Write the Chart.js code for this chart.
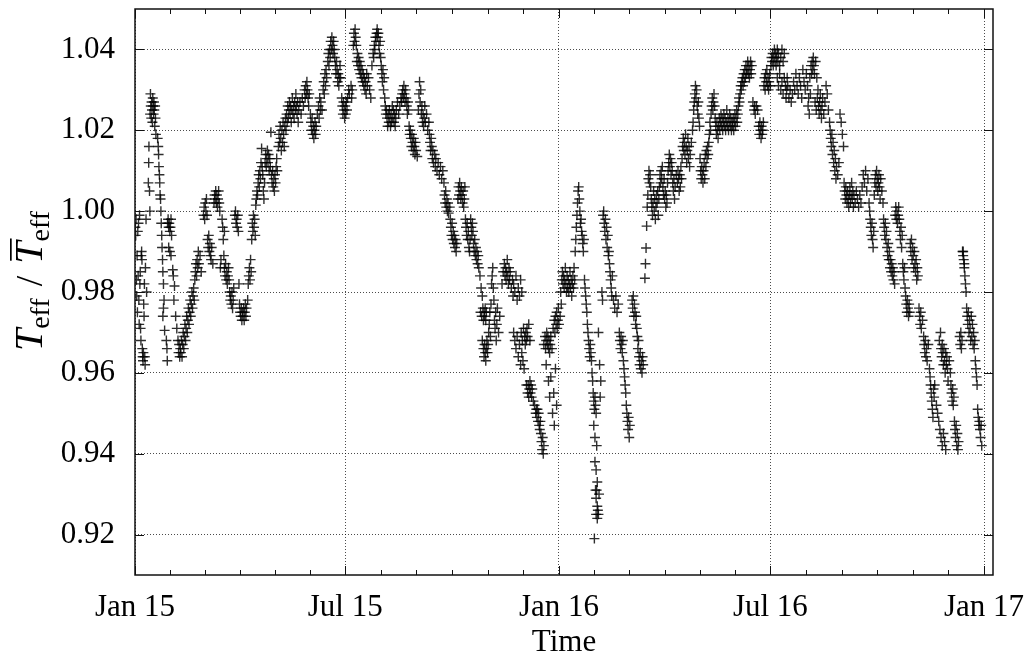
<!DOCTYPE html>
<html>
<head>
<meta charset="utf-8">
<script src="https://cdn.jsdelivr.net/npm/chart.js@4.4.0/dist/chart.umd.min.js"></script>
<style>
  html, body { margin: 0; padding: 0; background: #fff; }
  #wrap { width: 1030px; height: 661px; }
</style>
</head>
<body>
<div id="wrap"><canvas id="teffChart" width="1030" height="661"></canvas></div>
<script>
// x = days since 1 Jan 2015, y = T_eff / mean T_eff
const obsH1_2015 = [
  [0.3,0.996],[0.6,0.994],[0.9,0.998],[1.2,0.983],[1.5,0.979],[1.8,0.989],[2.1,0.975],[2.4,0.995],[2.7,0.984],[3.0,0.997],
  [3.3,0.978],[3.6,0.972],[3.9,0.999],[4.2,0.982],[4.5,0.985],[4.8,0.971],[5.1,0.968],[5.4,0.989],[5.7,0.990],[6.0,0.988],
  [6.3,0.966],[6.6,0.964],[6.9,0.963],[7.2,0.965],[7.5,0.977],[7.8,0.974],[8.1,0.982],[8.4,0.964],[8.7,0.962],[9.0,0.986],
  [9.5,0.998],[10.0,0.980],
  [11.5,1.007],[11.8,1.012],[12.0,1.016],[12.5,1.005],[12.8,1.000],[13.0,1.024],[13.3,1.029],[13.6,1.026],[14.0,1.023],
  [14.3,1.027],[14.6,1.025],[15.0,1.022],[15.3,1.028],[15.6,1.026],[16.0,1.024],[16.3,1.027],[16.6,1.025],[17.0,1.021],
  [17.3,1.026],[17.6,1.023],[18.0,1.019],[19.5,1.018],[20.0,1.016],[20.3,1.014],[20.6,1.011],[21.0,1.009],[21.3,1.007],
  [21.6,1.004],[22.0,1.003],[22.3,1.000],[22.6,0.997],[23.0,0.994],[23.3,0.991],[23.7,0.988],[24.0,0.985],[24.5,0.982],
  [25.0,0.978],[24.5,0.976],[24.0,0.974],[25.5,0.9705],[27.0,0.968],[27.5,0.966],[27.8,0.963],
  [28.0,0.997],[28.5,0.998],[29.0,0.996],[29.5,0.997],[30.0,0.995],[30.5,0.996],[31.0,0.998],[31.5,0.994],[29.0,0.991],
  [30.0,0.990],[31.0,0.989],[32.5,0.9855],[33.0,0.984],[34.0,0.9815],[33.5,0.978],
  [35.0,0.974],[36.0,0.971],[37.0,0.968],[37.5,0.965],[38.0,0.967],[38.5,0.964],[39.0,0.966],[39.5,0.965],[40.0,0.968],
  [40.5,0.964],[41.0,0.967],[41.5,0.970],[42.0,0.966],[42.5,0.969],[43.0,0.972],[43.5,0.968],[44.0,0.971],[44.5,0.974],
  [45.0,0.970],[45.5,0.973],[46.0,0.976],[46.5,0.972],[47.0,0.975],[47.5,0.978],[48.0,0.974],[48.5,0.977],[49.0,0.980],
  [49.5,0.976],[50.0,0.979],[50.5,0.981],[51.0,0.978],[51.5,0.983],[52.0,0.985],[52.5,0.987],[53.0,0.984],[53.5,0.988],
  [54.0,0.986],[54.5,0.990],[55.0,0.987],[56.0,0.989],[57.0,0.985],
  [59.0,0.999],[59.5,1.001],[60.0,0.998],[60.5,1.002],[61.0,1.000],[61.5,1.003],[62.0,0.999],[62.5,0.993],[63.0,0.991],
  [63.5,0.994],[64.0,0.990],[64.5,0.992],[65.0,0.989],[65.5,0.988],[66.0,0.991],[67.0,0.987],[68.0,1.002],[68.5,1.004],
  [69.0,1.003],[69.5,1.005],[70.0,1.002],[70.5,1.004],[71.0,1.001],[71.5,1.003],[72.0,1.005],[72.5,1.002],[73.0,1.000],
  [73.5,0.986],[74.0,0.988],[75.0,0.998],[75.5,0.996],[76.0,0.993],[77.0,0.995],
  [76.5,0.989],[77.0,0.986],[77.5,0.984],[78.0,0.987],[78.5,0.983],[79.0,0.985],[79.5,0.982],[80.0,0.984],[80.5,0.986],
  [81.0,0.983],[81.5,0.980],[82.0,0.978],[82.5,0.979],[83.0,0.977],[83.5,0.980],[84.0,0.976],[84.5,0.978],[85.0,0.981],
  [86.0,0.999],[86.5,1.000],[87.0,0.997],[87.5,0.998],[88.0,0.996],[88.5,0.999],[89.0,0.995],[89.5,0.982],[90.0,0.977],
  [90.5,0.975],[91.0,0.974],[91.5,0.976],[92.0,0.973],[92.5,0.975],[93.0,0.974],[93.5,0.976],[94.0,0.973],[94.5,0.975],
  [95.0,0.977],[95.5,0.974],[96.0,0.976],[97.0,0.978],
  [97.5,0.982],[98.0,0.984],[98.5,0.986],[99.0,0.983],[99.5,0.988],[100.0,0.985],[100.5,0.993],[101.0,0.997],[101.5,0.995],
  [102.0,0.999],[102.5,0.996],[103.0,0.998],[103.5,0.994],[104.0,1.0015],[104.5,1.003],[105.0,1.005],[105.5,1.004],
  [106.0,1.007],[106.5,1.009],[107.0,1.006],[107.5,1.010],[108.0,1.008],[108.5,1.012],[109.0,1.0155],[109.5,1.011],
  [110.0,1.009],[110.5,1.005],[111.0,1.003],[111.5,1.007],
  [112.0,1.012],[112.5,1.014],[113.0,1.011],[113.5,1.013],[114.0,1.015],[114.5,1.012],[115.0,1.014],[115.5,1.010],
  [116.0,1.013],[116.5,1.011],[117.0,1.0195],[117.5,1.009],[118.0,1.007],[118.5,1.010],[119.0,1.006],[119.5,1.008],
  [120.0,1.005],[120.5,1.009],[121.0,1.007],[121.5,1.011],[122.0,1.013],[122.5,1.010],
  [123.5,1.016],[124.0,1.019],[124.5,1.017],[125.0,1.021],[125.5,1.018],[126.0,1.015],[126.5,1.020],[127.0,1.017],
  [127.5,1.022],[128.0,1.019],[128.5,1.016],[129.0,1.021],[129.5,1.023],[130.0,1.020],[130.5,1.024],[131.0,1.022],
  [131.5,1.026],[132.0,1.023],[132.5,1.025],[133.0,1.027],[133.5,1.024],[134.0,1.026],[134.5,1.022],[135.0,1.025],
  [135.5,1.028],[136.0,1.024],[136.5,1.026],[137.0,1.023],[137.5,1.027],[138.0,1.025],[138.5,1.029],[139.0,1.026],
  [139.5,1.024],[140.0,1.027],[140.5,1.022],[141.0,1.025],[142.0,1.027],[143.0,1.024],[144.0,1.028],[145.0,1.026],
  [146.0,1.030],[146.5,1.028],[147.0,1.031],[147.5,1.029],[148.0,1.032],[148.5,1.030],[149.0,1.028],[149.5,1.026],
  [150.0,1.029],
  [151.0,1.024],[151.5,1.022],[152.0,1.020],[152.5,1.023],[153.0,1.019],[153.5,1.021],[154.0,1.018],[154.5,1.020],
  [155.0,1.022],[155.5,1.019],[156.0,1.021],[157.0,1.024],[158.0,1.026],[158.5,1.023],[159.0,1.028],[159.5,1.025],
  [160.0,1.027],[161.0,1.025],[162.0,1.030],[162.5,1.032],[163.0,1.029],[163.5,1.034],[164.0,1.031],[164.5,1.035],
  [165.0,1.033],
  [166.0,1.037],[166.5,1.039],[167.0,1.036],[167.5,1.040],[168.0,1.038],[168.5,1.042],[169.0,1.040],[169.5,1.043],
  [170.0,1.041],[170.5,1.039],[171.0,1.042],[171.5,1.040],[172.0,1.038],[172.5,1.036],[173.0,1.034],[173.5,1.037],
  [174.0,1.035],[174.5,1.032],[175.0,1.034],[175.5,1.031],[176.0,1.033],[176.5,1.036],[177.0,1.033],[178.0,1.028],
  [178.5,1.026],[179.0,1.024],[179.5,1.027],[180.0,1.025],[180.5,1.023]
];

const obsH2_2015 = [
  [181.0,1.026],[181.5,1.024],[182.0,1.027],[182.5,1.025],[183.0,1.028],[184.0,1.030],[184.5,1.029],
  [186.0,1.031],[186.5,1.028],[187.0,1.030],[188.0,1.041],[188.5,1.044],[189.0,1.042],[189.5,1.045],[190.0,1.043],
  [190.5,1.041],[191.0,1.037],[191.5,1.039],[192.0,1.036],[192.5,1.038],[193.0,1.035],[193.5,1.037],[194.0,1.034],
  [194.5,1.036],[195.0,1.033],[195.5,1.035],[196.0,1.032],[196.5,1.034],[197.0,1.031],[197.5,1.033],[198.0,1.030],
  [198.5,1.032],[199.0,1.029],[199.5,1.034],[200.0,1.031],[201.0,1.033],[202.0,1.030],[203.0,1.028],
  [204.0,1.036],[205.0,1.039],[205.5,1.038],[206.0,1.041],[206.5,1.040],[207.0,1.043],[207.5,1.042],[208.0,1.044],
  [208.5,1.045],[209.0,1.043],[209.5,1.044],[210.0,1.041],[210.5,1.039],[211.0,1.042],[211.5,1.038],[212.0,1.036],
  [212.5,1.034],[213.0,1.032],[213.5,1.035],[214.0,1.030],[214.5,1.033],[215.0,1.028],
  [215.5,1.026],[216.0,1.024],[216.5,1.025],[217.0,1.023],[217.5,1.021],[218.0,1.024],[218.5,1.022],[219.0,1.025],
  [219.5,1.023],[220.0,1.021],[220.5,1.024],[221.0,1.022],[221.5,1.026],[222.0,1.023],[222.5,1.025],[223.0,1.022],
  [223.5,1.024],[224.0,1.021],[224.5,1.023],[225.0,1.025],[226.0,1.027],[227.0,1.024],
  [228.0,1.026],[229.0,1.028],[229.5,1.027],[230.0,1.029],[230.5,1.030],[231.0,1.028],[231.5,1.031],[232.0,1.029],
  [232.5,1.027],[233.0,1.030],[233.5,1.028],[234.0,1.026],[234.5,1.024],[235.0,1.027],[235.5,1.025],
  [236.0,1.021],[236.5,1.019],[237.0,1.020],[237.5,1.018],[238.0,1.016],[238.5,1.019],[239.0,1.017],[239.5,1.015],
  [240.0,1.018],[240.5,1.016],[241.0,1.014],[241.5,1.017],[242.0,1.015],[243.0,1.0135],
  [244.0,1.025],[244.5,1.029],[245.0,1.032],[245.5,1.027],[246.0,1.030],[246.5,1.024],[247.0,1.026],[247.5,1.022],
  [248.0,1.024],[248.5,1.021],[249.0,1.023],[249.5,1.026],[250.0,1.022],[251.0,1.024],[252.0,1.020],[253.0,1.022],
  [253.5,1.019],[254.0,1.017],[254.5,1.015],[255.0,1.018],[255.5,1.016],[256.0,1.013],[256.5,1.015],[257.0,1.012],
  [258.0,1.014],[258.5,1.011],[259.0,1.013],[260.0,1.010],[261.0,1.012],[262.0,1.009],[263.0,1.011],[264.0,1.008],
  [265.0,1.010],[266.0,1.007],
  [266.5,1.004],[267.0,1.002],[267.5,1.005],[268.0,1.001],[268.5,1.003],[269.0,1.000],[269.5,1.002],[270.0,0.9995],
  [271.0,1.001],
  [271.5,0.998],[272.0,0.996],[272.5,0.994],[273.0,0.997],[273.5,0.993],[274.0,0.995],[274.5,0.992],[275.0,0.994],
  [275.5,0.991],[276.0,0.993],[276.5,0.990],[277.0,0.992],
  [278.0,1.003],[278.5,1.006],[279.0,1.004],[279.5,1.007],[280.0,1.005],[280.5,1.003],[281.0,1.006],[281.5,1.004],
  [282.0,1.002],[282.5,1.005],[283.0,1.001],[283.5,1.003],[284.0,1.006],
  [284.5,0.998],[285.0,0.996],[285.5,0.994],[286.0,0.997],[286.5,0.993],[287.0,0.995],[287.5,0.991],[288.0,0.990],
  [288.5,0.993],
  [289.0,0.998],[289.5,0.996],[290.0,0.994],[290.5,0.997],[291.0,0.995],[291.5,0.992],[292.0,0.990],[292.5,0.993],
  [293.0,0.989],[293.5,0.991],[294.0,0.988],[294.5,0.990],[295.0,0.987],[295.5,0.989],
  [296.0,0.986],[297.0,0.984],[298.0,0.981],[299.0,0.979],
  [297.5,0.975],[298.5,0.974],[299.5,0.976],[300.0,0.973],[300.5,0.975],[301.0,0.974],[301.5,0.976],[302.0,0.973],
  [302.5,0.975],[299.0,0.968],[300.0,0.966],[300.5,0.964],[301.0,0.967],[301.5,0.965],[302.0,0.963],[302.5,0.966],
  [303.0,0.968],[303.5,0.965],[304.0,0.967],
  [304.5,0.970],[305.0,0.972],[305.5,0.975],[306.0,0.969],[306.5,0.977],[307.0,0.982],[307.5,0.984],[308.0,0.986],
  [308.5,0.981],[309.0,0.978],[309.5,0.973],[310.0,0.971],[310.5,0.975],[311.0,0.968],[311.5,0.972],[312.0,0.976],
  [313.0,0.970],[314.0,0.974],
  [316.0,0.982],[317.0,0.985],[318.0,0.987],[318.5,0.984],[319.0,0.986],[319.5,0.983],[320.0,0.985],[320.5,0.988],
  [321.0,0.984],[321.5,0.982],[322.0,0.986],[322.5,0.983],[323.0,0.985],[324.0,0.981],[325.0,0.983],
  [325.5,0.979],[326.0,0.982],[327.0,0.980],[328.0,0.984],[329.0,0.978],[330.0,0.981],[331.0,0.979],[332.0,0.983],
  [333.0,0.980],
  [326.0,0.970],[327.0,0.968],[328.0,0.966],[329.0,0.969],[330.0,0.964],[331.0,0.967],[332.0,0.962],[333.0,0.965],
  [334.0,0.963],[335.0,0.961],
  [332.5,0.970],[333.5,0.968],[334.5,0.971],[335.5,0.969],[336.0,0.967],[336.5,0.970],[337.0,0.968],[337.5,0.971],
  [338.0,0.969],[339.0,0.972],[340.0,0.968],
  [337.0,0.957],[338.0,0.955],[338.5,0.957],[339.0,0.954],[339.5,0.956],[340.0,0.958],[340.5,0.955],[341.0,0.957],
  [341.5,0.954],[342.0,0.956],[343.0,0.953],
  [344.0,0.952],[345.0,0.950],[345.5,0.951],[346.0,0.949],[346.5,0.951],[347.0,0.948],[347.5,0.950],[348.0,0.947],
  [348.5,0.946],[349.0,0.948],
  [349.5,0.945],[350.0,0.943],[350.5,0.941],[351.0,0.944],[351.5,0.940],[352.0,0.942],
  [352.0,0.967],[353.0,0.969],[353.5,0.966],[354.0,0.968],[354.5,0.970],[355.0,0.967],[355.5,0.969],[356.0,0.966],
  [356.5,0.968],[357.0,0.965],[357.5,0.967],[358.0,0.969],[359.0,0.966],
  [354.0,0.962],[356.0,0.958],[357.0,0.954],[358.0,0.959],[359.5,0.950],[360.5,0.955],[361.0,0.947],[362.0,0.961],
  [363.0,0.952],
  [360.0,0.971],[361.0,0.973],[361.5,0.970],[362.0,0.974],[362.5,0.972],[363.0,0.975],[363.5,0.971],[364.0,0.973],
  [364.5,0.976]
];

const obsH1_2016 = [
  [365.0,0.972],[366.0,0.974],[367.0,0.977],
  [366.5,0.980],[367.5,0.983],[368.0,0.985],[368.5,0.982],[369.0,0.984],[369.5,0.981],[370.0,0.983],[370.5,0.986],
  [371.0,0.982],[371.5,0.980],[372.0,0.984],[372.5,0.981],[373.0,0.983],[373.5,0.980],[374.0,0.982],[374.5,0.985],
  [375.0,0.981],[375.5,0.983],[376.0,0.979],[376.5,0.982],[377.0,0.984],[377.5,0.981],[378.0,0.986],[378.5,0.983],
  [379.0,0.990],[379.5,0.993],[380.0,0.996],[380.5,0.999],[381.0,1.002],[381.5,1.005],[382.0,1.006],[382.5,1.003],
  [383.0,1.000],[383.5,0.997],[384.0,0.998],[384.5,0.995],[385.0,0.994],[385.5,0.992],[386.0,0.990],[386.5,0.993],
  [387.0,0.983],[387.5,0.981],[388.0,0.979],[388.5,0.977],[389.0,0.975],[389.5,0.972],[390.0,0.970],[390.5,0.968],
  [391.0,0.966],[391.5,0.964],[392.0,0.967],[392.5,0.965],[393.0,0.963],[393.5,0.960],[394.0,0.958],[394.5,0.955],
  [395.0,0.953],[395.5,0.951],[396.0,0.954],[396.5,0.952],[397.0,0.950],
  [395.0,0.947],[396.0,0.944],[397.5,0.942],[396.0,0.938],[397.0,0.936],[398.0,0.933],[396.5,0.931],[397.0,0.929],
  [397.5,0.931],[398.0,0.927],[398.5,0.926],[397.0,0.925],[398.0,0.924],[399.0,0.925],[399.5,0.930],[395.5,0.919],
  [399.0,0.970],[400.0,0.962],[401.0,0.958],[400.5,0.954],[402.0,0.980],[402.5,0.978],
  [403.0,0.999],[403.5,1.000],[404.0,0.997],[404.5,0.995],[405.0,0.998],[405.5,0.993],[406.0,0.996],[406.5,0.991],
  [407.0,0.994],[407.5,0.989],[408.0,0.990],[408.5,0.987],[409.0,0.985],[409.5,0.983],[410.0,0.981],[410.5,0.979],
  [411.0,0.984],
  [412.0,0.978],[413.0,0.976],[414.0,0.979],[415.0,0.975],[416.0,0.977],[417.0,0.970],[417.5,0.968],[418.0,0.966],
  [418.5,0.969],[419.0,0.967],[419.5,0.965],[420.0,0.968],[420.5,0.963],[421.0,0.961],[421.5,0.959],[422.0,0.957],
  [422.5,0.955],[423.0,0.952],[423.5,0.950],[424.0,0.948],[424.5,0.946],[425.0,0.949],[425.5,0.944],[426.0,0.947],
  [428.0,0.978],[428.5,0.976],[429.0,0.979],[429.5,0.974],[430.0,0.977],[430.5,0.975],[431.0,0.972],[431.5,0.974],
  [432.0,0.971],[432.5,0.969],[433.0,0.966],[433.5,0.968],[434.0,0.964],[434.5,0.962],[435.0,0.965],[435.5,0.961],
  [436.0,0.963],[436.5,0.960],[437.0,0.964],[437.5,0.962],
  [439.0,0.9834],[439.5,0.987],[440.0,0.9909],[440.5,0.9963],[441.0,1.001],
  [441.5,1.004],[442.0,1.008],[442.5,1.010],[443.0,1.007],[443.5,1.009],[444.0,1.006],[444.5,1.003],[445.0,1.001],
  [445.5,0.999],[446.0,1.002],[446.5,1.005],[447.0,1.000],[447.5,1.003],[448.0,0.998],
  [448.5,1.001],[449.0,1.004],[449.5,1.002],[450.0,1.005],[450.5,0.999],[451.0,1.003],[451.5,1.006],[452.0,1.009],
  [452.5,1.007],[453.0,1.010],[453.5,1.008],[454.0,1.011],[454.5,1.006],[455.0,1.004],[455.5,1.008],[456.0,1.003],
  [456.5,1.005],[457.0,1.001],[457.5,1.004],[458.0,1.002],
  [458.5,1.007],[459.0,1.010],[459.5,1.012],[460.0,1.014],[460.5,1.011],[461.0,1.013],[461.5,1.009],[462.0,1.012],
  [462.5,1.010],[463.0,1.007],[463.5,1.005],[464.0,1.008],[464.5,1.003],[465.0,1.006],[466.0,1.009],[467.0,1.007],
  [467.5,1.010],[468.0,1.008],[468.5,1.005],[469.0,1.009],[469.5,1.006],[470.0,1.011],[470.5,1.008],
  [471.0,1.013],[471.5,1.016],[472.0,1.018],[472.5,1.015],[473.0,1.017],[473.5,1.014],[474.0,1.019],[474.5,1.016],
  [475.0,1.012],[475.5,1.015],[476.0,1.018],[476.5,1.013],[477.0,1.016],[477.5,1.011],[478.0,1.014],[479.0,1.017],
  [480.0,1.020],
  [480.5,1.022],[481.0,1.025],[481.5,1.027],[482.0,1.029],[482.5,1.031],[483.0,1.028],[483.5,1.030],[484.0,1.026],
  [484.5,1.024],[485.0,1.027],[485.5,1.023],[486.0,1.021],
  [486.5,1.013],[487.0,1.010],[487.5,1.008],[488.0,1.011],[488.5,1.009],[489.0,1.007],[489.5,1.010],[490.0,1.012],
  [490.5,1.008],[491.0,1.014],[491.5,1.011],[492.0,1.015],
  [492.5,1.013],[493.0,1.016],[493.5,1.014],[494.0,1.017],[494.5,1.019],[495.0,1.022],[495.5,1.020],[496.0,1.024],
  [496.5,1.026],[497.0,1.028],[497.5,1.025],[498.0,1.027],[498.5,1.029],[499.0,1.026],[499.5,1.023],[500.0,1.021],
  [500.5,1.019],[501.0,1.022],[501.5,1.020],[502.0,1.018],[502.5,1.021],[503.0,1.023],
  [503.5,1.020],[504.0,1.022],[504.5,1.024],[505.0,1.021],[505.5,1.023],[506.0,1.020],[506.5,1.022],[507.0,1.024],
  [507.5,1.021],[508.0,1.023],[508.5,1.020],[509.0,1.022],[509.5,1.025],[510.0,1.021],[510.5,1.023],[511.0,1.020],
  [511.5,1.022],[512.0,1.024],[512.5,1.021],[513.0,1.023],[513.5,1.020],[514.0,1.022],[514.5,1.021],[515.0,1.023],
  [515.5,1.020],[516.0,1.022],[516.5,1.024],[517.0,1.021],[517.5,1.023],[518.0,1.025],[518.5,1.022],[519.0,1.024],
  [519.5,1.026],[520.0,1.028],[520.5,1.027],[521.0,1.029],[521.5,1.031],[522.0,1.030],[522.5,1.032],[523.0,1.033],
  [523.5,1.031],[524.0,1.034],[524.5,1.032],[525.0,1.035],[525.5,1.033],[526.0,1.036],[526.5,1.034],[527.0,1.035],
  [527.5,1.037],[528.0,1.034],[528.5,1.036],[529.0,1.033],[529.5,1.035],[530.0,1.037],[530.5,1.034],[531.0,1.036],
  [532.0,1.027],[533.0,1.025],[533.5,1.026],[534.0,1.024],[535.0,1.026],[536.0,1.025],[537.0,1.021],[537.5,1.019],
  [538.0,1.022],[538.5,1.020],[539.0,1.018],[539.5,1.021],[540.0,1.019],[540.5,1.020],[541.0,1.022],
  [541.5,1.031],[542.0,1.033],[542.5,1.030],[543.0,1.034],[543.5,1.032],[544.0,1.035],[544.5,1.031],[545.0,1.033],
  [545.5,1.030],[546.0,1.032],[546.5,1.034]
];

const obsH2_2016 = [
  [547.0,1.031],
  [547.5,1.036],[548.0,1.038],[548.5,1.037],[549.0,1.039],[549.5,1.036],[550.0,1.038],[550.5,1.040],[551.0,1.037],
  [551.5,1.039],[552.0,1.036],[552.5,1.038],[553.0,1.040],[553.5,1.037],[554.0,1.039],[555.0,1.036],[556.0,1.038],
  [557.0,1.040],[558.0,1.037],[559.0,1.039],
  [553.0,1.033],[554.0,1.031],[555.0,1.034],[556.0,1.030],[557.0,1.032],[558.0,1.029],[559.0,1.033],[560.0,1.031],
  [560.5,1.028],[561.0,1.030],[561.5,1.033],[562.0,1.031],[563.0,1.028],[564.0,1.030],[565.0,1.027],[566.0,1.029],
  [567.0,1.032],[568.0,1.030],[569.0,1.034],[570.0,1.031],[571.0,1.029],[572.0,1.033],[573.0,1.031],[574.0,1.028],
  [575.0,1.035],[576.0,1.032],[577.0,1.030],[578.0,1.034],[579.0,1.031],[580.0,1.028],[581.0,1.033],[582.0,1.036],
  [582.5,1.034],[583.0,1.037],[583.5,1.035],[584.0,1.038],[584.5,1.036],[585.0,1.034],[586.0,1.037],[587.0,1.033],
  [579.5,1.026],[580.5,1.024],[581.5,1.029],[585.5,1.027],[586.5,1.025],[587.5,1.028],[588.0,1.030],[588.5,1.026],
  [589.0,1.024],[589.5,1.027],[590.0,1.029],[590.5,1.025],[591.0,1.023],[591.5,1.026],[592.0,1.028],[593.0,1.024],
  [594.0,1.027],[595.0,1.031],[596.0,1.029],[597.0,1.025],[598.0,1.022],
  [598.5,1.020],[599.0,1.018],[599.5,1.016],[600.0,1.019],[600.5,1.014],[601.0,1.017],[601.5,1.012],[602.0,1.015],
  [602.5,1.010],[603.0,1.013],[603.5,1.008],[604.0,1.011],[605.0,1.009],[606.0,1.012],[607.0,1.024],[608.0,1.022],
  [609.0,1.019],[610.0,1.016],
  [610.5,1.007],[611.0,1.005],[611.5,1.003],[612.0,1.006],[612.5,1.004],[613.0,1.002],[613.5,1.005],[614.0,1.003],
  [614.5,1.001],[615.0,1.004],[615.5,1.006],[616.0,1.002],[616.5,1.004],[617.0,1.007],[617.5,1.003],[618.0,1.005],
  [618.5,1.001],[619.0,1.004],[620.0,1.002],[621.0,1.005],[622.0,1.003],[623.0,1.001],[624.0,1.004],[625.0,1.002],
  [626.0,1.006],[627.0,1.009],[628.0,1.007],[629.0,1.010],[630.0,1.005],[631.0,1.008],[632.0,1.002],[632.5,1.000],
  [633.0,0.998],[633.5,0.996],[634.0,0.994],[634.5,0.997],[635.0,0.993],[635.5,0.991],[636.0,0.995],
  [636.5,1.004],[637.0,1.007],[637.5,1.009],[638.0,1.006],[638.5,1.010],[639.0,1.008],[639.5,1.005],[640.0,1.007],
  [640.5,1.009],[641.0,1.006],[641.5,1.003],[642.0,1.008],[643.0,1.005],[644.0,1.002],
  [644.5,0.998],[645.0,0.996],[645.5,0.994],[646.0,0.997],[646.5,0.993],[647.0,0.995],[647.5,0.991],[648.0,0.989],
  [648.5,0.992],[649.0,0.988],[649.5,0.990],[650.0,0.986],[650.5,0.988],[651.0,0.985],[651.5,0.987],[652.0,0.984],
  [652.5,0.986],[653.0,0.983],[653.5,0.985],[654.0,0.982],
  [654.5,0.999],[655.0,1.001],[655.5,0.998],[656.0,1.000],[656.5,0.997],[657.0,0.999],[657.5,1.001],[658.0,0.998],
  [658.5,0.995],[659.0,0.993],[659.5,0.996],[660.0,0.991],[660.5,0.994],
  [661.0,0.987],[661.5,0.985],[662.0,0.983],[662.5,0.986],[663.0,0.981],[663.5,0.979],[664.0,0.977],[664.5,0.975],
  [665.0,0.978],[665.5,0.976],[666.0,0.974],[666.5,0.977],[667.0,0.975],
  [667.5,0.992],[668.0,0.990],[668.5,0.993],[669.0,0.988],[669.5,0.991],[670.0,0.989],[670.5,0.986],[671.0,0.990],
  [671.5,0.987],[672.0,0.985],[672.5,0.988],[673.0,0.983],[673.5,0.986],[674.0,0.984],
  [675.0,0.976],[675.5,0.974],[676.0,0.972],[676.5,0.975],[677.0,0.971],[678.0,0.973],[679.0,0.969],[679.5,0.967],
  [680.0,0.965],[680.5,0.968],[681.0,0.964],[681.5,0.966],[682.0,0.963],[683.0,0.967],[684.0,0.961],[684.5,0.959],
  [685.0,0.957],[685.5,0.955],[686.0,0.953],[686.5,0.951],[687.0,0.949],[687.5,0.956],[688.0,0.954],[688.5,0.957],
  [690.0,0.952],[691.0,0.950],[692.0,0.948],[693.0,0.946],[694.0,0.944],[695.0,0.942],[696.0,0.945],[697.0,0.943],
  [698.0,0.941],
  [692.5,0.968],[693.5,0.970],[694.0,0.966],[694.5,0.964],[695.0,0.967],[695.5,0.965],[696.0,0.962],[696.5,0.966],
  [697.0,0.963],[697.5,0.960],[698.0,0.965],[698.5,0.962],[699.0,0.964],[699.5,0.961],[700.0,0.958],[701.0,0.963],
  [702.0,0.960],
  [702.5,0.957],[703.0,0.955],[703.5,0.953],[704.0,0.956],[704.5,0.952],[705.0,0.954],[705.5,0.948],[706.0,0.946],
  [706.5,0.944],[707.0,0.947],[707.5,0.942],[708.0,0.945],[708.5,0.941],[709.0,0.943],
  [710.0,0.969],[710.5,0.967],[711.0,0.970],[711.5,0.966],[712.0,0.968],
  [712.5,0.990],[713.0,0.989],[713.5,0.988],[714.0,0.986],[714.5,0.984],[715.0,0.982],[715.5,0.980],[713.0,0.990],
  [714.0,0.987],
  [716.0,0.976],[716.5,0.974],[717.0,0.972],[717.5,0.975],[718.0,0.970],[718.5,0.973],[719.0,0.971],[719.5,0.968],
  [720.0,0.974],[720.5,0.969],[721.0,0.972],[721.5,0.967],[722.0,0.970],[722.5,0.966],[723.0,0.968],[723.5,0.963],
  [724.0,0.961],[724.5,0.959],[725.0,0.957],
  [725.5,0.951],[726.0,0.949],[726.5,0.947],[727.0,0.948],[727.5,0.946],[728.0,0.944],[728.5,0.947],[729.0,0.942]
];

// axis ticks
const xTickDays = [0, 181, 365, 547, 731];
const xTickLabels = ['Jan 15', 'Jul 15', 'Jan 16', 'Jul 16', 'Jan 17'];
const yTicks = [0.92, 0.94, 0.96, 0.98, 1.00, 1.02, 1.04];
const xRange = [0, 738.7];
const yRange = [0.91, 1.05];

const serif = "'Liberation Serif', 'DejaVu Serif', serif";

const points = [...obsH1_2015, ...obsH2_2015, ...obsH1_2016, ...obsH2_2016]
  .map(([d, r]) => ({ x: d, y: r }));

// keep the plot box fixed: no extra room for half-labels at the axis ends
function noEdgePadding(s) {
  s.paddingLeft = 0; s.paddingRight = 0;
  s.paddingTop = 0; s.paddingBottom = 0;
}

// box, inward tick marks (gnuplot style) and the y-axis label
const framePlugin = {
  id: 'frame',
  afterDatasetsDraw(chart) {
    const { ctx, chartArea: a, scales } = chart;
    const xs = scales.x, ys = scales.y;
    ctx.save();
    ctx.strokeStyle = '#111';
    ctx.lineWidth = 1;
    ctx.beginPath();
    // y majors, left and right
    yTicks.forEach(v => {
      const y = Math.round(ys.getPixelForValue(v)) + 0.5;
      ctx.moveTo(a.left, y); ctx.lineTo(a.left + 9, y);
      ctx.moveTo(a.right, y); ctx.lineTo(a.right - 9, y);
    });
    // x majors and the 6 minor steps in between
    for (let i = 0; i < xTickDays.length; i++) {
      const d0 = xTickDays[i];
      const px = Math.round(xs.getPixelForValue(d0)) + 0.5;
      ctx.moveTo(px, a.bottom); ctx.lineTo(px, a.bottom - 9);
      ctx.moveTo(px, a.top); ctx.lineTo(px, a.top + 9);
      if (i < xTickDays.length - 1) {
        const step = (xTickDays[i + 1] - d0) / 6;
        for (let k = 1; k < 6; k++) {
          const mx = Math.round(xs.getPixelForValue(d0 + k * step)) + 0.5;
          ctx.moveTo(mx, a.bottom); ctx.lineTo(mx, a.bottom - 5);
          ctx.moveTo(mx, a.top); ctx.lineTo(mx, a.top + 5);
        }
      }
    }
    ctx.stroke();
    ctx.lineWidth = 1.5;
    ctx.strokeRect(a.left, a.top, a.right - a.left, a.bottom - a.top);
    ctx.restore();
  },
  afterDraw(chart) {
    const ctx = chart.ctx;
    const tFont = 'italic 40px ' + serif;
    const subFont = '28px ' + serif;
    const slashFont = '38px ' + serif;
    const parts = [
      { t: 'T', f: tFont, dy: 0 },
      { t: 'eff', f: subFont, dy: 7, gapAfter: 12 },
      { t: '/', f: slashFont, dy: 0, gapAfter: 12 },
      { t: 'T', f: tFont, dy: 0, bar: true },
      { t: 'eff', f: subFont, dy: 7 }
    ];
    let total = 0;
    parts.forEach(p => {
      ctx.font = p.f;
      p.w = ctx.measureText(p.t).width;
      total += p.w + (p.gapAfter || 0);
    });
    const midY = (chart.chartArea.top + chart.chartArea.bottom) / 2 - 11;
    ctx.save();
    ctx.translate(42, midY);
    ctx.rotate(-Math.PI / 2);
    ctx.fillStyle = '#000';
    ctx.textBaseline = 'alphabetic';
    let x = -total / 2;
    parts.forEach(p => {
      ctx.font = p.f;
      ctx.fillText(p.t, x, p.dy);
      if (p.bar) {
        ctx.fillRect(x + 3, -32, p.w, 1.7);
      }
      x += p.w + (p.gapAfter || 0);
    });
    ctx.restore();
  }
};

new Chart(document.getElementById('teffChart'), {
  type: 'scatter',
  data: {
    datasets: [{
      data: points,
      pointStyle: 'cross',
      pointRadius: 5,
      pointBorderWidth: 1.4,
      borderColor: 'rgba(0,0,0,0.82)',
      backgroundColor: 'rgba(0,0,0,0.82)'
    }]
  },
  options: {
    responsive: false,
    animation: false,
    layout: { padding: { top: 9, right: 37, left: 0, bottom: 0 } },
    plugins: {
      legend: { display: false },
      tooltip: { enabled: false }
    },
    scales: {
      x: {
        type: 'linear',
        min: xRange[0],
        max: xRange[1],
        afterFit: s => { s.height = 86; noEdgePadding(s); },
        afterBuildTicks: s => { s.ticks = xTickDays.map(v => ({ value: v })); },
        ticks: {
          autoSkip: false,
          maxRotation: 0,
          padding: 14,
          color: '#000',
          font: { family: serif, size: 31 },
          callback: (v, i) => xTickLabels[i]
        },
        grid: {
          color: 'rgba(0,0,0,0.7)',
          lineWidth: 1,
          drawTicks: false
        },
        border: { display: false, dash: [1, 2] },
        title: {
          display: true,
          text: 'Time',
          color: '#000',
          font: { family: serif, size: 31 },
          padding: { top: 0, bottom: 0 }
        }
      },
      y: {
        type: 'linear',
        min: yRange[0],
        max: yRange[1],
        afterFit: s => { s.width = 135; noEdgePadding(s); },
        afterBuildTicks: s => { s.ticks = yTicks.map(v => ({ value: v })); },
        ticks: {
          padding: 20,
          color: '#000',
          font: { family: serif, size: 31 },
          callback: v => v.toFixed(2)
        },
        grid: {
          color: 'rgba(0,0,0,0.7)',
          lineWidth: 1,
          drawTicks: false
        },
        border: { display: false, dash: [1, 2] }
      }
    }
  },
  plugins: [framePlugin]
});
</script>
</body>
</html>
